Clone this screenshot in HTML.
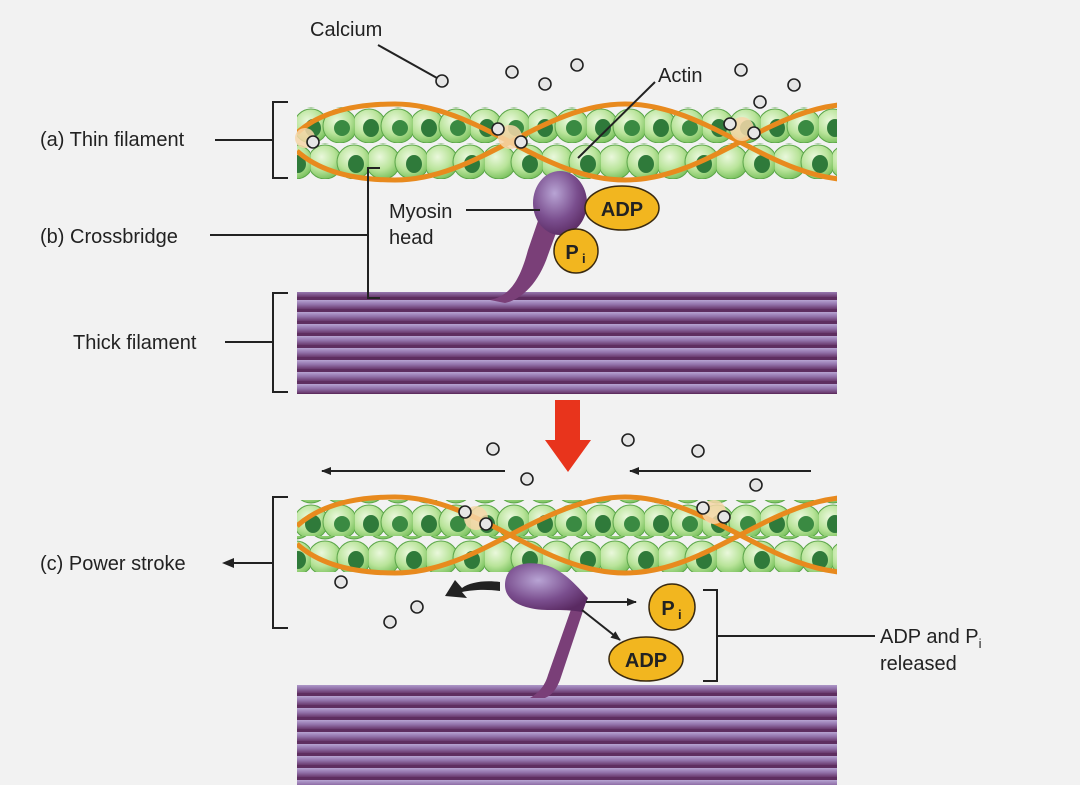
<!DOCTYPE html>
<html><head><meta charset="utf-8"><style>
html,body{margin:0;padding:0;background:#f2f2f2;}
svg{display:block;font-family:"Liberation Sans",Arial,sans-serif;}
</style></head><body>
<svg width="1080" height="785" viewBox="0 0 1080 785" xmlns="http://www.w3.org/2000/svg">
<defs>
<radialGradient id="bead" cx="40%" cy="35%" r="65%"><stop offset="0" stop-color="#eaf8dc"/><stop offset="0.6" stop-color="#b9e49a"/><stop offset="1" stop-color="#7fc463"/></radialGradient>
<radialGradient id="head" cx="40%" cy="35%" r="70%"><stop offset="0" stop-color="#b8a4d4"/><stop offset="0.6" stop-color="#7a4e8e"/><stop offset="1" stop-color="#5a2a62"/></radialGradient>
<linearGradient id="stripe" x1="0" y1="0" x2="0" y2="1"><stop offset="0" stop-color="#b7a4d2"/><stop offset="0.5" stop-color="#9272aa"/><stop offset="1" stop-color="#6a3a6e"/></linearGradient>
<pattern id="beads" x="297" y="0" width="58" height="36" patternUnits="userSpaceOnUse">
<circle cx="14" cy="18" r="17" fill="url(#bead)" stroke="#5aa548"/>
<ellipse cx="16" cy="20" rx="8" ry="9" fill="#2f7a3a"/>
<circle cx="43" cy="18" r="17" fill="url(#bead)" stroke="#5aa548"/>
<ellipse cx="45" cy="20" rx="8" ry="8" fill="#3a8a42"/>
</pattern>
<pattern id="beads2" x="311" y="0" width="58" height="36" patternUnits="userSpaceOnUse">
<circle cx="14" cy="18" r="17" fill="url(#bead)" stroke="#5aa548"/>
<circle cx="43" cy="18" r="17" fill="url(#bead)" stroke="#5aa548"/>
<ellipse cx="45" cy="20" rx="8" ry="9" fill="#2f7a3a"/>
</pattern>
<pattern id="stripes" x="0" y="0" width="540" height="12" patternUnits="userSpaceOnUse">
<rect width="540" height="12" fill="#5e2e60"/>
<rect width="540" height="9" fill="url(#stripe)"/>
</pattern>
<clipPath id="fc"><rect x="297" y="0" width="540" height="785"/></clipPath>
<marker id="ah" markerWidth="10" markerHeight="8" refX="9" refY="4" orient="auto" markerUnits="userSpaceOnUse"><path d="M0,0 L10,4 L0,8 z" fill="#222"/></marker>
</defs>
<rect width="1080" height="785" fill="#f2f2f2"/>

<!-- thin filament 1 -->
<rect x="297" y="107" width="540" height="36" fill="url(#beads)"/>
<rect x="297" y="143" width="540" height="36" fill="url(#beads2)"/>
<g stroke="#e88a1e" stroke-width="5" fill="none" clip-path="url(#fc)">
<path d="M297,133 C320,112 355,104 395,104 C479,104 541,180 625,180 C709,180 771,104 855,104"/>
<path d="M297,151 C320,172 355,180 395,180 C479,180 541,104 625,104 C709,104 771,180 855,180"/>
</g>
<!-- thin filament 2 -->
<rect x="297" y="500" width="540" height="36" fill="url(#beads)"/>
<rect x="297" y="536" width="540" height="36" fill="url(#beads2)"/>
<g stroke="#e88a1e" stroke-width="5" fill="none" clip-path="url(#fc)">
<path d="M297,526 C320,505 355,497 395,497 C479,497 541,573 625,573 C709,573 771,497 855,497"/>
<path d="M297,544 C320,565 355,573 395,573 C479,573 541,497 625,497 C709,497 771,573 855,573"/>
</g>

<!-- thick filaments -->
<rect x="297" y="292" width="540" height="102" fill="url(#stripes)"/>
<rect x="297" y="685" width="540" height="100" fill="url(#stripes)"/>

<!-- top myosin -->
<path d="M490,300 C510,296 520,280 528,250 L540,215 L560,222 L548,255 C538,285 520,300 505,303 Z" fill="#7a3f78"/>
<ellipse cx="560" cy="203" rx="27" ry="32" fill="url(#head)"/>
<ellipse cx="622" cy="208" rx="37" ry="22" fill="#f2b61f" stroke="#3a2a10" stroke-width="1.5"/>
<text x="622" y="216" font-size="20" font-weight="bold" text-anchor="middle" fill="#222">ADP</text>
<circle cx="576" cy="251" r="22" fill="#f2b61f" stroke="#3a2a10" stroke-width="1.5"/>
<text x="572" y="259" font-size="20" font-weight="bold" text-anchor="middle" fill="#222">P</text><text x="582" y="263" font-size="13" font-weight="bold" fill="#222">i</text>

<!-- bottom myosin -->
<path d="M545,698 C552,695 556,690 560,680 L585,605 L575,598 L548,675 C545,685 540,692 530,698 Z" fill="#7a3f78"/>
<path d="M505,585 C505,565 525,560 545,565 C565,570 580,590 588,598 L582,612 C560,608 545,612 530,608 C512,604 505,595 505,585 Z" fill="url(#head)"/>
<path d="M500,582 C485,580 470,582 462,588 L455,580 L445,596 L467,598 L462,592 C472,590 485,589 500,591 Z" fill="#222"/>
<line x1="586" y1="602" x2="636" y2="602" stroke="#222" stroke-width="2" marker-end="url(#ah)"/>
<line x1="582" y1="610" x2="620" y2="640" stroke="#222" stroke-width="2" marker-end="url(#ah)"/>
<circle cx="672" cy="607" r="23" fill="#f2b61f" stroke="#3a2a10" stroke-width="1.5"/>
<text x="668" y="615" font-size="20" font-weight="bold" text-anchor="middle" fill="#222">P</text><text x="678" y="619" font-size="13" font-weight="bold" fill="#222">i</text>
<ellipse cx="646" cy="659" rx="37" ry="22" fill="#f2b61f" stroke="#3a2a10" stroke-width="1.5"/>
<text x="646" y="667" font-size="20" font-weight="bold" text-anchor="middle" fill="#222">ADP</text>

<!-- red arrow -->
<path d="M555,400 L580,400 L580,440 L591,440 L568,472 L545,440 L555,440 Z" fill="#e8341c"/>
<line x1="505" y1="471" x2="322" y2="471" stroke="#222" stroke-width="2" marker-end="url(#ah)"/>
<line x1="811" y1="471" x2="630" y2="471" stroke="#222" stroke-width="2" marker-end="url(#ah)"/>

<g fill="#f6d6a8" opacity="0.85">
<circle cx="510" cy="137" r="12"/><circle cx="742" cy="129" r="12"/><circle cx="305" cy="138" r="10"/>
<circle cx="476" cy="518" r="12"/><circle cx="714" cy="512" r="12"/>
</g>
<!-- calcium -->
<g fill="#e6e6e6" stroke="#222" stroke-width="1.6">
<circle cx="442" cy="81" r="6"/><circle cx="512" cy="72" r="6"/><circle cx="545" cy="84" r="6"/><circle cx="577" cy="65" r="6"/>
<circle cx="741" cy="70" r="6"/><circle cx="794" cy="85" r="6"/><circle cx="760" cy="102" r="6"/>
<circle cx="498" cy="129" r="6"/><circle cx="521" cy="142" r="6"/><circle cx="313" cy="142" r="6"/>
<circle cx="730" cy="124" r="6"/><circle cx="754" cy="133" r="6"/>
<circle cx="493" cy="449" r="6"/><circle cx="628" cy="440" r="6"/><circle cx="698" cy="451" r="6"/>
<circle cx="527" cy="479" r="6"/><circle cx="756" cy="485" r="6"/>
<circle cx="465" cy="512" r="6"/><circle cx="486" cy="524" r="6"/><circle cx="703" cy="508" r="6"/><circle cx="724" cy="517" r="6"/>
<circle cx="341" cy="582" r="6"/><circle cx="417" cy="607" r="6"/><circle cx="390" cy="622" r="6"/>
</g>

<!-- labels -->
<g font-size="20" fill="#222">
<text x="310" y="36">Calcium</text>
<text x="658" y="82">Actin</text>
<text x="40" y="146">(a) Thin filament</text>
<text x="40" y="243">(b) Crossbridge</text>
<text x="73" y="349">Thick filament</text>
<text x="40" y="570">(c) Power stroke</text>
<text x="389" y="218">Myosin</text>
<text x="389" y="244">head</text>
<text x="880" y="643">ADP and P<tspan font-size="13" dy="5">i</tspan></text>
<text x="880" y="670">released</text>
</g>
<g stroke="#222" stroke-width="2" fill="none">
<line x1="378" y1="45" x2="437" y2="78"/>
<line x1="655" y1="82" x2="578" y2="158"/>
<line x1="215" y1="140" x2="273" y2="140"/>
<path d="M288,102 H273 V178 H288"/>
<line x1="210" y1="235" x2="368" y2="235"/>
<path d="M380,168 H368 V298 H380"/>
<line x1="466" y1="210" x2="540" y2="210"/>
<line x1="225" y1="342" x2="273" y2="342"/>
<path d="M288,293 H273 V392 H288"/>
<path d="M288,497 H273 V628 H288"/>
<line x1="273" y1="563" x2="232" y2="563"/>
<path d="M703,590 H717 V681 H703"/>
<line x1="717" y1="636" x2="875" y2="636"/>
</g>
<path d="M222,563 L234,558 L234,568 z" fill="#222"/>
</svg>
</body></html>
